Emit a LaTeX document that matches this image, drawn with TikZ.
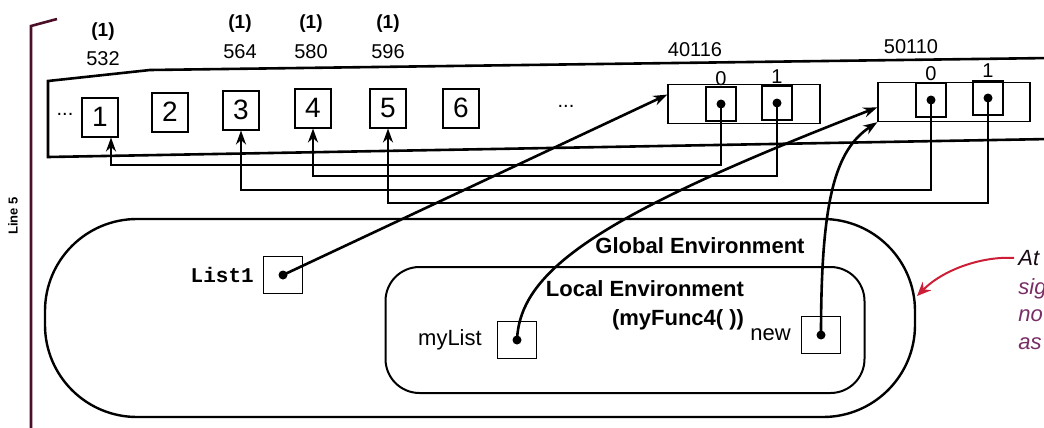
\documentclass[tikz,border=0pt]{standalone}
\usepackage{fontspec}
\setmainfont{Liberation Sans}
\setmonofont{Liberation Mono}
\usetikzlibrary{arrows.meta,positioning}

\definecolor{notered}{RGB}{205,30,55}
\definecolor{notetext}{RGB}{120,45,100}
\definecolor{barcol}{RGB}{75,15,40}

\begin{document}
\begin{tikzpicture}[
  x=0.5pt,y=-0.5pt,
  cell/.style={draw,line width=1pt,minimum width=18pt,minimum height=19.5pt,inner sep=0pt,font=\fontsize{14}{14}\selectfont},
  heapobj/.style={draw,line width=0.7pt,minimum width=76pt,minimum height=19.5pt,inner sep=0pt},
  slot/.style={draw,line width=0.6pt,minimum width=15pt,minimum height=17pt,inner sep=0pt},
  varbox/.style={draw,line width=0.7pt,minimum width=19.5pt,minimum height=18.5pt,inner sep=0pt},
  dot/.style={circle,fill,inner sep=0pt,minimum size=4.5pt},
  addr/.style={font=\fontsize{10}{10}\selectfont},
  count/.style={font=\bfseries\fontsize{9.5}{10}\selectfont},
  envbox/.style={draw,line width=1.2pt},
  envlabel/.style={font=\bfseries\fontsize{11}{14.5}\selectfont},
  varlabel/.style={font=\fontsize{11}{11}\selectfont},
  ptr/.style={line width=1.3pt,-{Stealth[length=7pt,width=5pt]}}
]
  \useasboundingbox (0,0) rectangle (1044,428);
  \clip (0,0) rectangle (1044,428);

  % bracket of the line
  \draw[barcol,line width=1.3pt] (57,19) -- (31,26) -- (31,432);
  \node[rotate=90,font=\bfseries\fontsize{6.5}{6.5}\selectfont] (line) at (13,216) {Line 5};

  % heap band
  \draw[line width=1.3pt] (1050,58) -- (150,70) -- (48,81) -- (48,157) -- (1050,139);
  \node[addr] (ldots) at (65,114) {...};
  \node[cell] (c1) at (100,117) {1};
  \node[cell] (c2) at (170,112) {2};
  \node[cell] (c3) at (241,110) {3};
  \node[cell] (c4) at (313,108) {4};
  \node[cell] (c5) at (388,108) {5};
  \node[cell] (c6) at (461,108) {6};
  \node[addr] (mdots) at (566,106) {...};

  \node[count] (k1) at (103,32) {(1)};
  \node[addr] (a1) at (103,59) {532};
  \node[count] (k3) at (240,24) {(1)};
  \node[addr] (a3) at (240,52) {564};
  \node[count] (k4) at (311,24) {(1)};
  \node[addr] (a4) at (311,52) {580};
  \node[count] (k5) at (388,24) {(1)};
  \node[addr] (a5) at (388,52) {596};

  % the two lists
  \node[heapobj] (h1) at (744,104) {};
  \node[slot] (s10) at (721,104) {};
  \node[slot] (s11) at (777,103) {};
  \node[dot] (d10) at (s10) {};
  \node[dot] (d11) at (s11) {};
  \node[addr] (a10) at (721,79) {0};
  \node[addr] (a11) at (777,77) {1};
  \node[addr] (ah1) at (695,50) {40116};

  \node[heapobj] (h2) at (954,102) {};
  \node[slot] (s20) at (931,100) {};
  \node[slot] (s21) at (988,98) {};
  \node[dot] (d20) at (s20) {};
  \node[dot] (d21) at (s21) {};
  \node[addr] (a20) at (931,74) {0};
  \node[addr] (a21) at (988,71) {1};
  \node[addr] (ah2) at (911,47) {50110};

  \coordinate (lv1) at (0,165);
  \coordinate (lv4) at (0,176);
  \coordinate (lv3) at (0,190);
  \coordinate (lv5) at (0,203);
  \draw[ptr] (d10.center) -- (d10.center |- lv1) -| ([xshift=5.5pt]c1.south);
  \draw[ptr] (d11.center) -- (d11.center |- lv4) -| (c4.south);
  \draw[ptr] (d20.center) -- (d20.center |- lv3) -| (c3.south);
  \draw[ptr] (d21.center) -- (d21.center |- lv5) -| (c5.south);

  % environments
  \node[envbox,rounded corners=46pt,minimum width=435pt,minimum height=99pt] (genv) at (480,318) {};
  \node[envlabel] (glabel) at (700,246) {Global Environment};
  \node[envbox,line width=1pt,rounded corners=17pt,minimum width=239.5pt,minimum height=63pt] (lenv) at (625,330) {};
  \node[envlabel,align=right] (llabel) at (645,305) {Local Environment\\(myFunc4( ))};

  \node[varbox] (vl) at (283,275) {};
  \node[dot] (dl) at (vl) {};
  \node[varlabel,font=\ttfamily\bfseries\fontsize{10.5}{10.5}\selectfont,left=1pt of vl] (nl) {List1};

  \node[varbox] (vm) at (517,340) {};
  \node[dot] (dm) at (vm) {};
  \node[varlabel,left=4pt of vm] (nm) {myList};

  \node[varbox] (vn) at (821,335) {};
  \node[dot] (dn) at (vn) {};
  \node[varlabel,left=1.5pt of vn] (nn) {new};

  \draw[ptr] (dl.center) -- (h1.173);
  \draw[ptr] (dm.center) .. controls (520,270) and (600,215) .. (h2.184);
  \draw[ptr] (dn.center) .. controls (821,200) and (835,150) .. (h2.south west);

  % side note
  \node[anchor=west,inner sep=2pt,font=\itshape\fontsize{11}{11}\selectfont,text=black!80!notetext] (nat) at (1014,258) {At};
  \node[anchor=north west,inner sep=0pt,align=left,font=\itshape\fontsize{11}{13.8}\selectfont,text=notetext] (nrest) at (1018,278) {sig\\no\\as};
  \coordinate (tip) at (917,296);
  \draw[notered,line width=1pt,-{Stealth[length=7pt,width=6pt]}] (nat.west) .. controls (985,256) and (945,268) .. (tip);
\end{tikzpicture}
\end{document}
